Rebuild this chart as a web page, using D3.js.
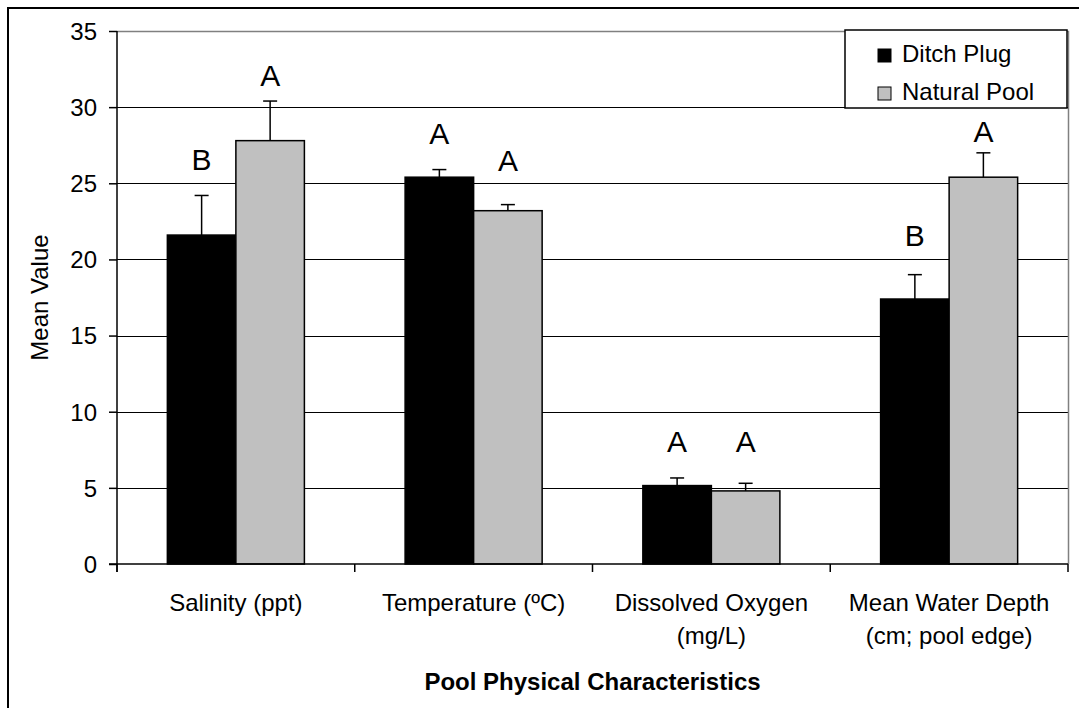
<!DOCTYPE html>
<html>
<head>
<meta charset="utf-8">
<script src="https://cdn.jsdelivr.net/npm/d3@7"></script>
<style>
  body { margin: 0; background: #fff; }
  text { font-family: "Liberation Sans", Arial, sans-serif; fill: #000; }
</style>
</head>
<body>
<div id="chart"></div>
<script>
// data
const categories = ["Salinity (ppt)", "Temperature (ºC)", "Dissolved Oxygen (mg/L)", "Mean Water Depth (cm; pool edge)"];
const categoryLines = [["Salinity (ppt)"], ["Temperature (ºC)"], ["Dissolved Oxygen", "(mg/L)"], ["Mean Water Depth", "(cm; pool edge)"]];
const seriesNames = ["Ditch Plug", "Natural Pool"];
const ditchPlug = [21.6, 25.4, 5.15, 17.4];
const naturalPool = [27.8, 23.2, 4.8, 25.4];
const ditchPlugErr = [2.6, 0.5, 0.5, 1.6];
const naturalPoolErr = [2.6, 0.4, 0.5, 1.6];
const ditchPlugLetters = ["B", "A", "A", "B"];
const naturalPoolLetters = ["A", "A", "A", "A"];
// where each letter sits, in mean-value units
const ditchPlugLetterAt = [25.9, 27.6, 7.35, 20.9];
const naturalPoolLetterAt = [31.4, 25.8, 7.35, 27.7];
const yTicks = [0, 5, 10, 15, 20, 25, 30, 35];

const W = 1079, H = 708;
const plot = { left: 117, right: 1068, top: 31, bottom: 564 };
const colors = { "Ditch Plug": "#000000", "Natural Pool": "#c0c0c0" };

const rows = categories.map((c, i) => ({
    cat: c,
    lines: categoryLines[i],
    bars: [
        { s: seriesNames[0], v: ditchPlug[i], e: ditchPlugErr[i], l: ditchPlugLetters[i], la: ditchPlugLetterAt[i] },
        { s: seriesNames[1], v: naturalPool[i], e: naturalPoolErr[i], l: naturalPoolLetters[i], la: naturalPoolLetterAt[i] }
    ]
}));

const svg = d3.select("#chart").append("svg")
    .attr("width", W)
    .attr("height", H);

// outer chart border (cut off at right/bottom in the original)
svg.append("rect")
    .attr("x", 8).attr("y", 8)
    .attr("width", W + 20).attr("height", H + 20)
    .attr("fill", "#fff")
    .attr("stroke", "#000")
    .attr("stroke-width", 2);

const x = d3.scaleBand()
    .domain(categories)
    .range([plot.left, plot.right])
    .padding(0);

const bw = x.bandwidth();
const barW = bw / (2 + 1.47);
const xs = d3.scaleBand()
    .domain(seriesNames)
    .range([(bw - 2 * barW) / 2, (bw + 2 * barW) / 2])
    .padding(0);

const y = d3.scaleLinear()
    .domain([0, 35])
    .range([plot.bottom, plot.top]);

// gridlines
svg.append("g")
    .selectAll("line")
    .data(yTicks.filter(t => t > 0 && t < 35))
    .enter().append("line")
    .attr("x1", plot.left).attr("x2", plot.right)
    .attr("y1", d => Math.round(y(d)) + 0.5).attr("y2", d => Math.round(y(d)) + 0.5)
    .attr("stroke", "#000")
    .attr("stroke-width", 1.2);

// plot area frame top / right (grey)
svg.append("path")
    .attr("d", `M${plot.left},${plot.top + 0.5}H${plot.right + 0.5}V${plot.bottom}`)
    .attr("fill", "none")
    .attr("stroke", "#808080")
    .attr("stroke-width", 1.5);

// bars
const groups = svg.append("g")
    .selectAll("g")
    .data(rows)
    .enter().append("g")
    .attr("transform", d => `translate(${x(d.cat)},0)`);

groups.selectAll("rect")
    .data(d => d.bars)
    .enter().append("rect")
    .attr("x", d => xs(d.s))
    .attr("width", xs.bandwidth())
    .attr("y", d => y(d.v))
    .attr("height", d => y(0) - y(d.v))
    .attr("fill", d => colors[d.s])
    .attr("stroke", "#000")
    .attr("stroke-width", 1.5);

// error bars (upper only)
const err = groups.selectAll("g.err")
    .data(d => d.bars)
    .enter().append("g")
    .attr("class", "err")
    .attr("transform", d => `translate(${xs(d.s) + xs.bandwidth() / 2},0)`);

err.append("line")
    .attr("x1", 0).attr("x2", 0)
    .attr("y1", d => y(d.v)).attr("y2", d => y(d.v + d.e))
    .attr("stroke", "#000").attr("stroke-width", 1.5);

err.append("line")
    .attr("x1", -7).attr("x2", 7)
    .attr("y1", d => y(d.v + d.e)).attr("y2", d => y(d.v + d.e))
    .attr("stroke", "#000").attr("stroke-width", 1.5);

// significance letters
groups.selectAll("text.letter")
    .data(d => d.bars)
    .enter().append("text")
    .attr("class", "letter")
    .attr("x", d => xs(d.s) + xs.bandwidth() / 2)
    .attr("y", d => y(d.la))
    .attr("text-anchor", "middle")
    .style("font-size", "30px")
    .text(d => d.l);

// y axis
const yAxis = svg.append("g")
    .attr("transform", `translate(${plot.left},0)`)
    .call(d3.axisLeft(y).tickValues(yTicks).tickSize(8).tickPadding(12));
yAxis.select(".domain").attr("stroke", "#000").attr("stroke-width", 1.5).attr("d", `M0,${plot.top}V${plot.bottom + 8}`);
yAxis.selectAll(".tick line").attr("stroke", "#000").attr("stroke-width", 1.5);
yAxis.selectAll(".tick text")
    .style("font-size", "24px")
    .style("font-family", "'Liberation Sans', Arial, sans-serif")
    .attr("dy", "0.35em");

// x axis
const xAxis = svg.append("g")
    .attr("transform", `translate(0,${plot.bottom})`);
xAxis.append("line")
    .attr("x1", plot.left - 8).attr("x2", plot.right)
    .attr("y1", 0).attr("y2", 0)
    .attr("stroke", "#000").attr("stroke-width", 1.5);
xAxis.selectAll("line.tick")
    .data(categories.map(c => x(c)).concat([x(categories[categories.length - 1]) + bw]))
    .enter().append("line")
    .attr("class", "tick")
    .attr("x1", d => d).attr("x2", d => d)
    .attr("y1", 0).attr("y2", 8)
    .attr("stroke", "#000").attr("stroke-width", 1.5);

const labels = xAxis.selectAll("text.cat")
    .data(rows)
    .enter().append("text")
    .attr("class", "cat")
    .attr("x", d => x(d.cat) + bw / 2)
    .attr("text-anchor", "middle")
    .style("font-size", "24px");
labels.selectAll("tspan")
    .data(d => d.lines)
    .enter().append("tspan")
    .attr("x", function() { return d3.select(this.parentNode).attr("x"); })
    .attr("y", (d, i) => 47 + i * 33)
    .text(d => d);

// axis titles
svg.append("text")
    .attr("x", (plot.left + plot.right) / 2)
    .attr("y", 690)
    .attr("text-anchor", "middle")
    .style("font-size", "24px")
    .style("font-weight", "bold")
    .text("Pool Physical Characteristics");

svg.append("text")
    .attr("transform", `translate(48,${(plot.top + plot.bottom) / 2}) rotate(-90)`)
    .attr("text-anchor", "middle")
    .style("font-size", "24px")
    .text("Mean Value");

// legend
const legend = svg.append("g").attr("transform", "translate(845,30)");
legend.append("rect")
    .attr("width", 222).attr("height", 78)
    .attr("fill", "#fff").attr("stroke", "#000").attr("stroke-width", 1.5);
const li = legend.selectAll("g.item")
    .data(seriesNames)
    .enter().append("g")
    .attr("class", "item")
    .attr("transform", (d, i) => `translate(33,${19 + i * 38})`);
li.append("rect")
    .attr("width", 13).attr("height", 13)
    .attr("fill", d => colors[d])
    .attr("stroke", "#000").attr("stroke-width", 1);
li.append("text")
    .attr("x", 24).attr("y", 13)
    .style("font-size", "24px")
    .text(d => d);
</script>
</body>
</html>
